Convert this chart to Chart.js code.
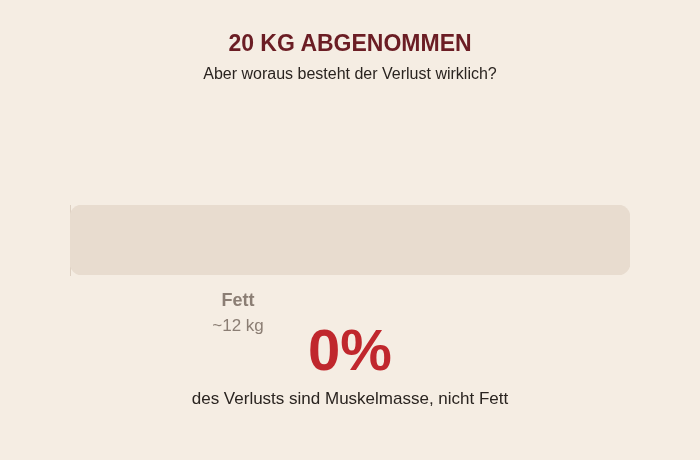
<!DOCTYPE html>
<html>
<head>
<meta charset="utf-8">
<script src="https://cdn.jsdelivr.net/npm/chart.js@4"></script>
<style>
  html, body { margin: 0; padding: 0; background: #f5ede3; }
  #wrap { position: relative; width: 700px; height: 460px; font-family: "Liberation Sans", Arial, sans-serif; }
  #wrap canvas { position: absolute; left: 0; top: 0; }
  .txt { position: absolute; left: 0; width: 700px; text-align: center; white-space: nowrap; }
  #title { top: 30px; font-size: 23px; font-weight: bold; color: #6b1d24; }
  #subtitle { top: 65px; font-size: 16px; color: #2a2420; }
  #percent { top: 316px; font-size: 58px; font-weight: bold; color: #c0272d; }
  #caption { top: 389px; font-size: 17px; color: #2a2420; }
</style>
</head>
<body>
<div id="wrap">
  <canvas id="lossChart" width="700" height="460"></canvas>
  <div class="txt" id="title">20 KG ABGENOMMEN</div>
  <div class="txt" id="subtitle">Aber woraus besteht der Verlust wirklich?</div>
  <div class="txt" id="percent"></div>
  <div class="txt" id="caption">des Verlusts sind Muskelmasse, nicht Fett</div>
</div>
<script>
// values in kg
const categories = ['Verlust'];
const totalLoss = [20];
const fatLoss = [12];
const muscleLoss = [0];
const fatLabel = 'Fett';
const fatAmountLabel = '~12 kg';

// percent shown under the bar
var musclePct = Math.round(muscleLoss[0] / totalLoss[0] * 100);
document.getElementById('percent').textContent = musclePct + '%';

// draws the "Fett" label under the middle of the fat share
const segmentLabels = {
    id: 'segmentLabels',
    afterDraw: function (chart) {
        var ctx = chart.ctx;
        var x = chart.scales.x;
        var cx = x.getPixelForValue(fatLoss[0] / 2);
        ctx.save();
        ctx.textAlign = 'center';
        ctx.fillStyle = '#8b7e74';
        ctx.font = 'bold 18px "Liberation Sans", Arial, sans-serif';
        ctx.fillText(fatLabel, cx, 306);
        ctx.font = '17px "Liberation Sans", Arial, sans-serif';
        ctx.fillText(fatAmountLabel, cx, 331);
        ctx.restore();
    }
};

var ctx = document.getElementById('lossChart').getContext('2d');
new Chart(ctx, {
    type: 'bar',
    data: {
        labels: categories,
        datasets: [{
            label: 'Gesamt',
            data: totalLoss,
            backgroundColor: '#e8dccf',
            borderWidth: 0,
            borderRadius: 12,
            borderSkipped: false,
            barPercentage: 1,
            categoryPercentage: 1
        }]
    },
    options: {
        indexAxis: 'y',
        responsive: false,
        animation: false,
        layout: {
            padding: { left: 70, right: 70, top: 205, bottom: 185 }
        },
        scales: {
            x: { display: false, min: 0, max: totalLoss[0] },
            y: {
                display: true,
                grid: { display: false, drawTicks: false },
                ticks: { display: false },
                border: { display: true, color: '#ddd0c2', width: 1 }
            }
        },
        plugins: {
            legend: { display: false },
            tooltip: { enabled: false }
        }
    },
    plugins: [segmentLabels]
});
</script>
</body>
</html>
